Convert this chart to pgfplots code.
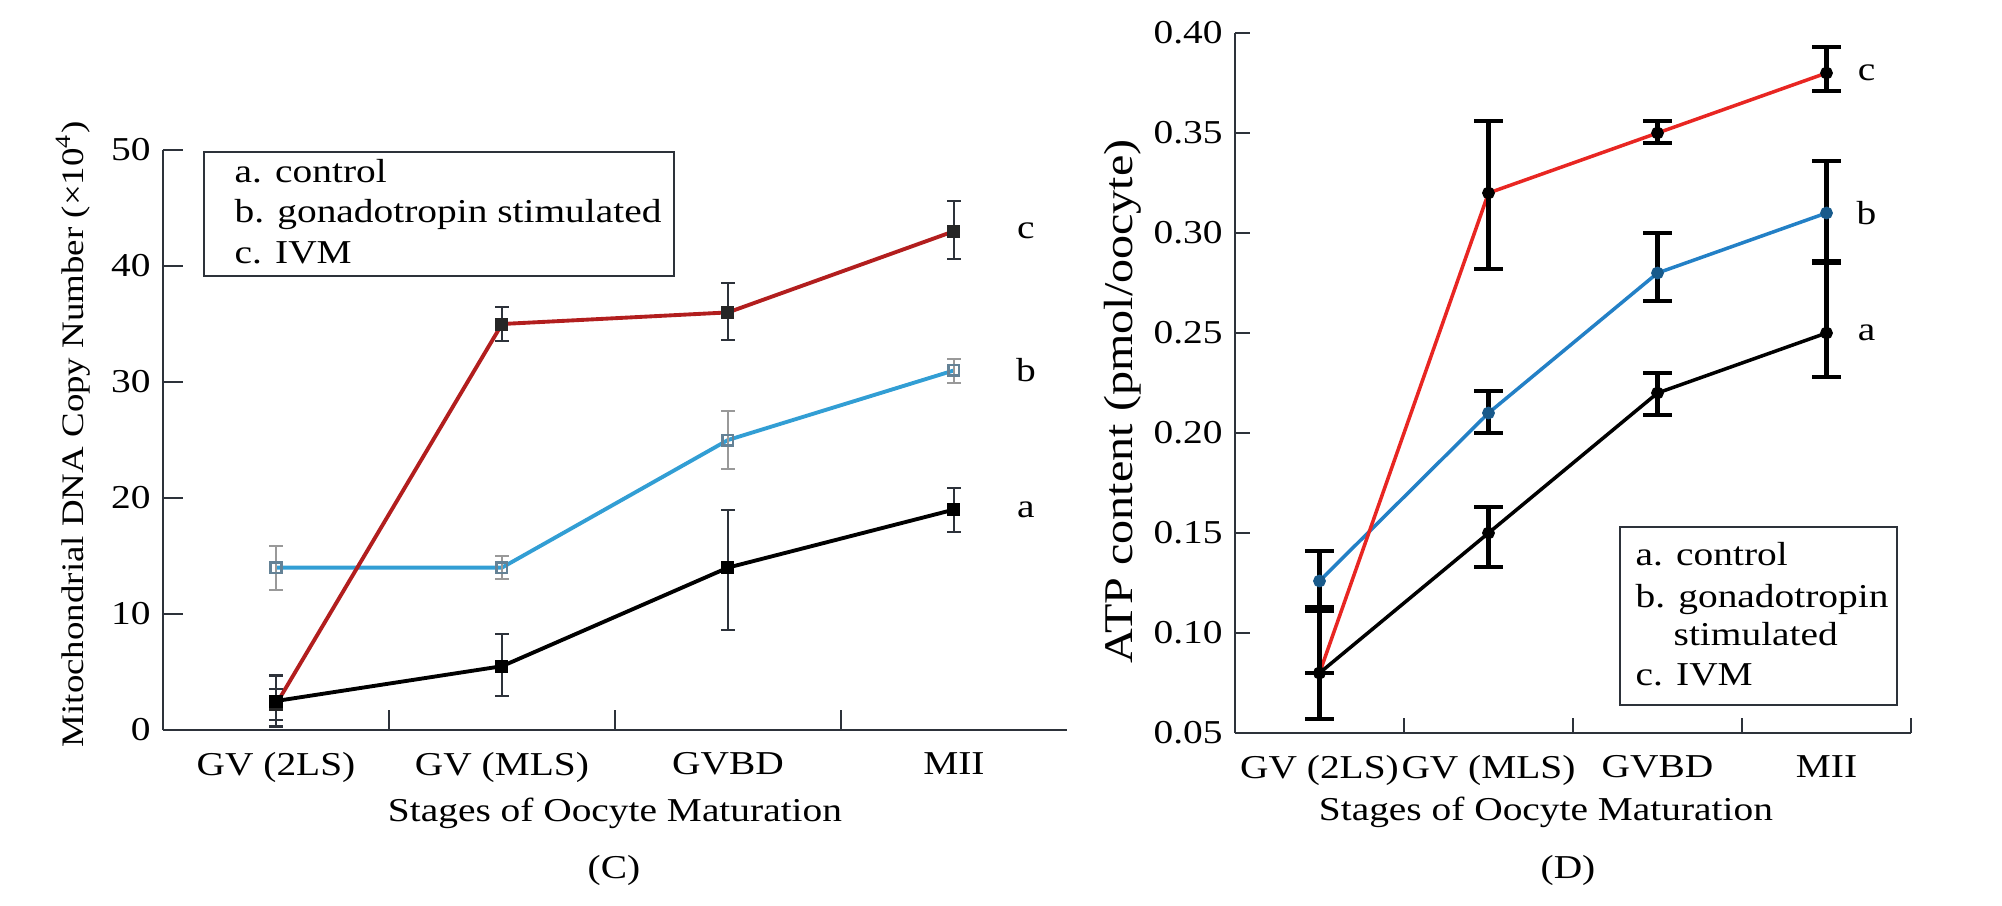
\documentclass[border=0pt]{standalone}
\usepackage{fontspec}
\setmainfont{Liberation Serif}[FakeStretch=1.18]
\usepackage{pgfplots}
\pgfplotsset{compat=1.18}
\usepackage{pgfplotstable}

\definecolor{cred}{RGB}{178,30,30}
\definecolor{cblue}{RGB}{50,158,212}
\definecolor{cbluemark}{RGB}{100,130,150}
\definecolor{dred}{RGB}{232,38,34}
\definecolor{dblue}{RGB}{35,128,198}
\definecolor{axgray}{RGB}{45,50,58}

% (C) mtDNA copy number: x y plus minus
\pgfplotstableread{
x y ep em
0 2.5 2.2 2.2
1 5.5 2.8 2.6
2 14 5.0 5.4
3 19 1.9 1.9
}\Ca
\pgfplotstableread{
x y ep em
0 14 1.9 1.9
1 14 1.0 1.0
2 25 2.5 2.5
3 31 1.0 1.1
}\Cb
\pgfplotstableread{
x y ep em
0 2.2 1.3 1.3
1 35 1.5 1.5
2 36 2.5 2.4
3 43 2.6 2.4
}\Cc
% (D) ATP content
\pgfplotstableread{
x y ep em
0 0.080 0.033 0.023
1 0.150 0.013 0.017
2 0.220 0.010 0.011
3 0.250 0.036 0.022
}\Da
\pgfplotstableread{
x y ep em
0 0.126 0.015 0.015
1 0.210 0.011 0.010
2 0.280 0.020 0.014
3 0.310 0.026 0.025
}\Db
\pgfplotstableread{
x y ep em
0 0.080 0.000 0.000
1 0.320 0.036 0.038
2 0.350 0.006 0.005
3 0.380 0.013 0.009
}\Dc

\pgfplotsset{
  common/.style={
    scale only axis, anchor=south west,
    axis lines=left, axis line style={-, axgray, line width=0.8pt},
    tick align=inside, tick style={axgray, line width=0.8pt},
    xmin=-0.5, xmax=3.5,
    xticklabels={,,,,,},
    extra x ticks={0,1,2,3},
    extra x tick labels={GV (2LS),GV (MLS),GVBD,MII},
    extra x tick style={major tick length=0pt},
    x tick label style={yshift=-0.1cm},
    /pgf/number format/assume math mode=true,
    font=\fontsize{9.5}{11.4}\selectfont,
    xlabel={Stages of Oocyte Maturation},
    clip=false,
  },
}

\begin{document}
\begin{tikzpicture}[font=\fontsize{9.5}{11.4}\selectfont]
\useasboundingbox (0,0) rectangle (20.02,9.05);

% ---------------- (C) ----------------
\begin{axis}[common,
  at={(1.63cm,1.75cm)}, width=9.04cm, height=5.80cm,
  ymin=0, ymax=50, ytick={0,10,20,30,40,50},
  xtick={0.5,1.5,2.5}, major tick length=0.2cm,
  ylabel={Mitochondrial DNA Copy Number (×10\textsuperscript{4})},
  ylabel style={at={(axis description cs:-0.0996,0.51)}, anchor=center,
    font=\fontsize{8.9}{10.5}\selectfont},
  xlabel style={at={(axis description cs:0.5,-0.143)}, anchor=center},
]
\addplot[cblue, line width=1.1pt, mark=square, mark size=1.5pt,
  mark options={draw=cbluemark, fill=white, line width=0.7pt},
  error bars/.cd, y dir=both, y explicit,
  error bar style={line width=0.6pt, black!40},
  error mark options={rotate=90, mark size=1.9pt, line width=0.6pt, black!40}]
  table[x=x, y=y, y error plus=ep, y error minus=em]{\Cb};
\addplot[cred, line width=1.1pt, mark=square*, mark size=1.3pt,
  mark options={draw=black!85, fill=black!85},
  error bars/.cd, y dir=both, y explicit,
  error bar style={line width=0.6pt, axgray},
  error mark options={rotate=90, mark size=1.9pt, line width=0.6pt, axgray}]
  table[x=x, y=y, y error plus=ep, y error minus=em]{\Cc};
\addplot[black, line width=1.1pt, mark=square*, mark size=1.3pt,
  mark options={draw=black, fill=black},
  error bars/.cd, y dir=both, y explicit,
  error bar style={line width=0.6pt, axgray},
  error mark options={rotate=90, mark size=1.9pt, line width=0.6pt, axgray}]
  table[x=x, y=y, y error plus=ep, y error minus=em]{\Ca};
\node at (axis cs:3,43) [xshift=0.72cm] {c};
\node at (axis cs:3,31) [xshift=0.72cm] {b};
\node at (axis cs:3,19) [xshift=0.72cm] {a};
\end{axis}

% ---------------- (D) ----------------
\begin{axis}[common,
  at={(12.35cm,1.72cm)}, width=6.76cm, height=7.00cm,
  ymin=0.05, ymax=0.40, ytick={0.05,0.10,0.15,0.20,0.25,0.30,0.35,0.40},
  yticklabel style={/pgf/number format/.cd, fixed, fixed zerofill, precision=2},
  xtick={0.5,1.5,2.5,3.5}, major tick length=0.15cm,
  ylabel={ATP content (pmol/oocyte)},
  ylabel style={at={(axis description cs:-0.166,0.474)}, anchor=center,
    font=\fontsize{11.6}{13.5}\selectfont},
  xlabel style={at={(axis description cs:0.46,-0.114)}, anchor=center},
]
\addplot[dblue, line width=1.0pt, mark=*, mark size=1.3pt,
  mark options={draw=dblue!70!black, fill=dblue!70!black},
  error bars/.cd, y dir=both, y explicit,
  error bar style={line width=1.3pt, black},
  error mark options={rotate=90, mark size=4.1pt, line width=1.3pt, black}]
  table[x=x, y=y, y error plus=ep, y error minus=em]{\Db};
\addplot[dred, line width=1.0pt, mark=*, mark size=1.3pt,
  mark options={draw=black, fill=black},
  error bars/.cd, y dir=both, y explicit,
  error bar style={line width=1.3pt, black},
  error mark options={rotate=90, mark size=4.1pt, line width=1.3pt, black}]
  table[x=x, y=y, y error plus=ep, y error minus=em]{\Dc};
\addplot[black, line width=1.0pt, mark=*, mark size=1.3pt,
  mark options={draw=black, fill=black},
  error bars/.cd, y dir=both, y explicit,
  error bar style={line width=1.3pt, black},
  error mark options={rotate=90, mark size=4.1pt, line width=1.3pt, black}]
  table[x=x, y=y, y error plus=ep, y error minus=em]{\Da};
\node at (axis cs:3,0.38) [xshift=0.40cm] {c};
\node at (axis cs:3,0.31) [xshift=0.40cm] {b};
\node at (axis cs:3,0.25) [xshift=0.40cm] {a};
\end{axis}

% legends
\draw[axgray, line width=0.8pt] (2.04,7.53) rectangle (6.74,6.29);
\node[anchor=base west, inner sep=0] at (2.34,7.23) {a. control};
\node[anchor=base west, inner sep=0] at (2.34,6.83) {b. gonadotropin stimulated};
\node[anchor=base west, inner sep=0] at (2.34,6.42) {c. IVM};

\draw[axgray, line width=0.8pt] (16.20,3.78) rectangle (18.97,2.00);
\node[anchor=base west, inner sep=0] at (16.35,3.40) {a. control};
\node[anchor=base west, inner sep=0] at (16.35,2.98) {b. gonadotropin};
\node[anchor=base west, inner sep=0] at (16.73,2.60) {stimulated};
\node[anchor=base west, inner sep=0] at (16.35,2.20) {c. IVM};

% panel captions
\node at (6.14,0.35) {(C)};
\node at (15.68,0.35) {(D)};
\end{tikzpicture}
\end{document}
